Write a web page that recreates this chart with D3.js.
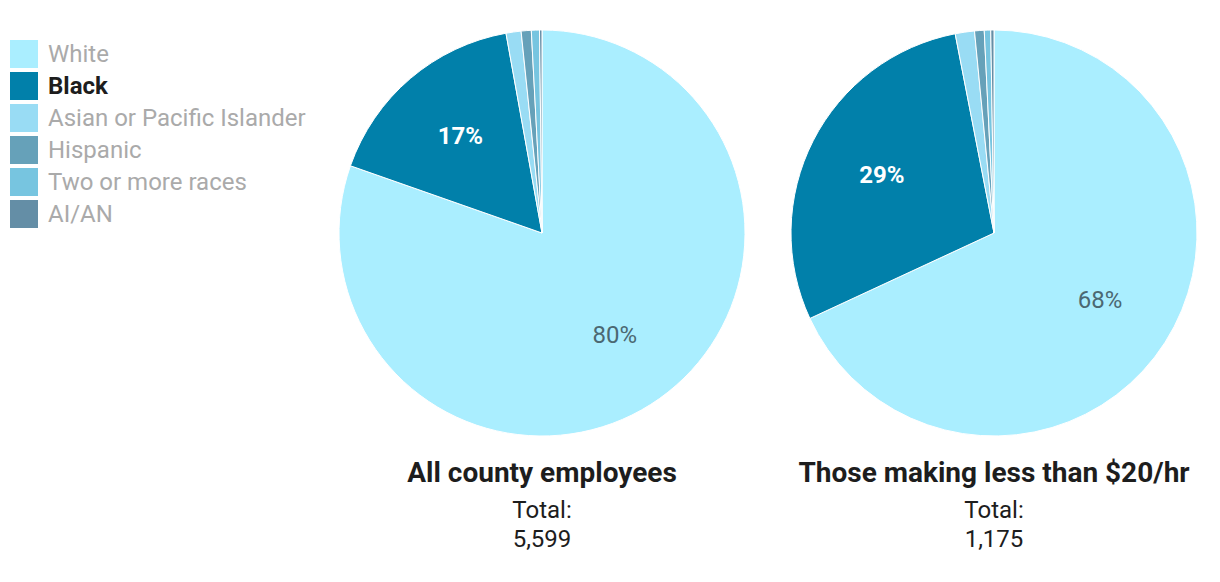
<!DOCTYPE html>
<html>
<head>
<meta charset="utf-8">
<script src="https://cdn.jsdelivr.net/npm/d3@7"></script>
<style>
  body { margin: 0; background: #fff; }
  svg { font-family: Roboto, "Noto Sans", sans-serif; }
</style>
</head>
<body>
<svg id="chart" width="1220" height="582"></svg>
<script>
// data
const categories = ["White", "Black", "Asian or Pacific Islander", "Hispanic", "Two or more races", "AI/AN"];
const colors = ["#aaeeff", "#0180aa", "#99dcf4", "#66a1b9", "#77c5e0", "#648ea6"];
const allEmployees = [4500, 940, 67, 45, 36, 11];
const under20 = [800, 339, 18, 9, 6, 3];
const pieTitles = ["All county employees", "Those making less than $20/hr"];
const totals = ["5,599", "1,175"];
const highlighted = "Black";

const svg = d3.select("#chart");
const color = d3.scaleOrdinal().domain(categories).range(colors);
const pct = d3.format(".0%");

// legend
const legend = svg.append("g").attr("class", "legend");
const item = legend.selectAll("g.item")
  .data(categories)
  .join("g")
  .attr("class", "item")
  .attr("transform", (d, i) => `translate(10, ${40 + i * 32})`);

item.append("rect")
  .attr("width", 28)
  .attr("height", 28)
  .attr("fill", d => color(d));

item.append("text")
  .attr("x", 38)
  .attr("y", 22)
  .attr("font-size", 24)
  .attr("font-weight", d => d === highlighted ? 700 : 400)
  .attr("fill", d => d === highlighted ? "#1d1d1d" : "#aaaaaa")
  .text(d => d);

// pies
const pies = [
  { values: allEmployees, cx: 542, title: pieTitles[0], total: totals[0] },
  { values: under20, cx: 994, title: pieTitles[1], total: totals[1] }
];
const cy = 233, r = 203;

const pie = d3.pie().sort(null).value(d => d.value);
const arc = d3.arc().innerRadius(0).outerRadius(r);
const labelArc = d3.arc().innerRadius(r * 0.62).outerRadius(r * 0.62);

pies.forEach(p => {
  const data = categories.map((c, i) => ({ cat: c, value: p.values[i] }));
  const sum = d3.sum(p.values);
  const arcs = pie(data);

  const g = svg.append("g").attr("transform", `translate(${p.cx}, ${cy})`);

  g.selectAll("path")
    .data(arcs)
    .join("path")
    .attr("d", arc)
    .attr("fill", d => color(d.data.cat))
    .attr("stroke", "#fff")
    .attr("stroke-width", 1);

  // only label the big slices
  g.selectAll("text.lbl")
    .data(arcs.filter(d => d.data.value / sum > 0.1))
    .join("text")
    .attr("class", "lbl")
    .attr("transform", d => `translate(${labelArc.centroid(d)})`)
    .attr("text-anchor", "middle")
    .attr("dy", "0.3em")
    .attr("font-size", 24)
    .attr("font-weight", d => d.data.cat === highlighted ? 700 : 400)
    .attr("fill", d => d.data.cat === highlighted ? "#ffffff" : "#4b6872")
    .text(d => pct(d.data.value / sum));

  // title + total
  const t = svg.append("g").attr("transform", `translate(${p.cx}, 0)`);
  t.append("text")
    .attr("y", 482)
    .attr("text-anchor", "middle")
    .attr("font-size", 28)
    .attr("font-weight", 700)
    .attr("fill", "#1d1d1d")
    .text(p.title);
  t.append("text")
    .attr("y", 518)
    .attr("text-anchor", "middle")
    .attr("font-size", 24)
    .attr("fill", "#1d1d1d")
    .text("Total:");
  t.append("text")
    .attr("y", 547)
    .attr("text-anchor", "middle")
    .attr("font-size", 24)
    .attr("fill", "#1d1d1d")
    .text(p.total);
});
</script>
</body>
</html>
